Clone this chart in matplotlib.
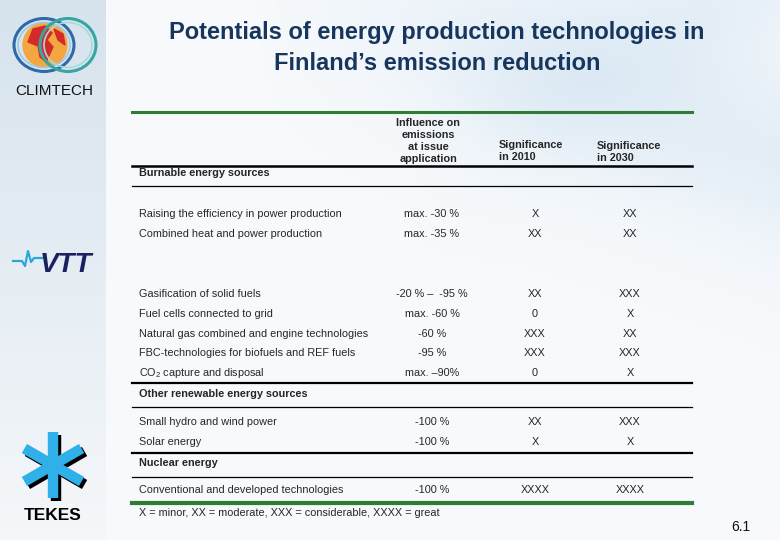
import numpy as np
import matplotlib.pyplot as plt
from matplotlib.patches import Circle, Ellipse, Polygon

plt.rcParams['font.family'] = ['Liberation Sans', 'DejaVu Sans']
plt.rcParams['mathtext.fontset'] = 'custom'
plt.rcParams['mathtext.rm'] = 'Liberation Sans'

# table data
title = "Potentials of energy production technologies in\nFinland\u2019s emission reduction"
col_heads = ["Influence on\nemissions\nat issue\napplication", "Significance\nin 2010", "Significance\nin 2030"]

burnable_a = ["Raising the efficiency in power production", "Combined heat and power production"]
burnable_a_infl = ["max. -30 %", "max. -35 %"]
burnable_a_2010 = ["X", "XX"]
burnable_a_2030 = ["XX", "XX"]

burnable_b = ["Gasification of solid fuels", "Fuel cells connected to grid",
              "Natural gas combined and engine technologies",
              "FBC-technologies for biofuels and REF fuels", "CO$_2$ capture and disposal"]
burnable_b_infl = ["-20 % \u2013  -95 %", "max. -60 %", "-60 %", "-95 %", "max. \u201390%"]
burnable_b_2010 = ["XX", "0", "XXX", "XXX", "0"]
burnable_b_2030 = ["XXX", "X", "XX", "XXX", "X"]

renew = ["Small hydro and wind power", "Solar energy"]
renew_infl = ["-100 %", "-100 %"]
renew_2010 = ["XX", "X"]
renew_2030 = ["XXX", "X"]

nuclear = ["Conventional and developed technologies"]
nuclear_infl = ["-100 %"]
nuclear_2010 = ["XXXX"]
nuclear_2030 = ["XXXX"]

footnote = "X = minor, XX = moderate, XXX = considerable, XXXX = great"

W, H = 780, 540
fig = plt.figure(figsize=(7.8, 5.4), dpi=100)
ax = fig.add_axes([0, 0, 1, 1])
ax.set_xlim(0, W)
ax.set_ylim(H, 0)
ax.axis('off')

# background: pale slide with a faint blue swoosh and a left band
yy, xx = np.mgrid[0:H, 0:W]
bg = np.ones((H, W, 3))
bg[:] = np.array([0.97, 0.98, 0.99])
swoosh = np.exp(-((yy - 0.35 * (xx - 330)) ** 2) / (2 * 70.0 ** 2)) * (yy < 380) * np.clip((xx - 250) / 300, 0, 1)
swoosh2 = np.exp(-((yy + 0.5 * (xx - 700)) ** 2) / (2 * 60.0 ** 2)) * np.clip((xx - 400) / 300, 0, 1)
tint = np.array([0.84, 0.90, 0.95])
s = np.clip(0.55 * swoosh + 0.45 * swoosh2, 0, 1)[..., None]
bg = bg * (1 - s) + tint * s
left = xx < 106
fade = (yy / H)[..., None]
leftcol = np.array([0.84, 0.89, 0.93]) * (1 - fade) + np.array([0.96, 0.97, 0.98]) * fade
bg = np.where(left[..., None], leftcol, bg)
ax.imshow(bg, extent=(0, W, H, 0), aspect='auto', zorder=0)

# title
ax.text(437, 48, title, ha='center', va='center', fontsize=17, fontweight='bold',
        color='#17365d', linespacing=1.4)

# CLIMTECH logo
ax.add_patch(Circle((45, 45), 22, color='#f4a640', zorder=2))
ax.add_patch(Polygon([(33, 29), (45, 26), (52, 33), (47, 40), (53, 47), (46, 62), (40, 57), (38, 46), (28, 42)],
                     color='#d42a2a', zorder=3))
ax.add_patch(Polygon([(54, 29), (63, 34), (65, 45), (58, 40)], color='#d42a2a', zorder=3))
ax.add_patch(Ellipse((44, 45), 60, 53, fill=False, ec='#2f6aa8', lw=2.2, zorder=4))
ax.add_patch(Ellipse((44, 45), 52, 45, fill=False, ec='#9fc8e6', lw=1.2, zorder=4))
ax.add_patch(Ellipse((68, 45), 56, 53, fill=False, ec='#3aa3a3', lw=2.2, zorder=4))
ax.add_patch(Ellipse((68, 45), 48, 45, fill=False, ec='#a6dcd8', lw=1.2, zorder=4))
ax.text(54, 91, "CLIMTECH", ha='center', va='center', fontsize=11, color='#111111')

# VTT logo
ax.plot([13, 22, 25, 28, 31, 34, 42], [261, 261, 266, 251, 262, 258, 258], color='#2aa7d8', lw=1.6, zorder=3)
ax.text(66, 265, "VTT", ha='center', va='center', fontsize=20, fontweight='bold', style='italic',
        color='#1b2060', zorder=4)

# TEKES logo
cx, cy, L = 53, 465, 33
for ang in (90, 30, -30):
    a = np.deg2rad(ang)
    dx, dy = L * np.cos(a), -L * np.sin(a)
    ax.plot([cx - dx + 3, cx + dx + 3], [cy - dy + 3, cy + dy + 3], color='black', lw=7.5,
            solid_capstyle='butt', zorder=3)
    ax.plot([cx - dx, cx + dx], [cy - dy, cy + dy], color='#2fb0e8', lw=7.5, solid_capstyle='butt', zorder=4)
ax.text(53, 516, "TEKES", ha='center', va='center', fontsize=12.5, fontweight='bold', color='black')

# table
x0, x1 = 132, 692
xl, xi, x10, x30 = 139, 432, 535, 630
fs = 7.8
tc = '#262626'

ax.plot([x0, x1], [112, 112], color='#2f7d32', lw=2.2)
ax.text(428, 141, col_heads[0], ha='center', va='center', fontsize=fs, fontweight='bold',
        color=tc, linespacing=1.28)
ax.text(499, 151, col_heads[1], ha='left', va='center', fontsize=fs, fontweight='bold',
        color=tc, linespacing=1.25)
ax.text(597, 152, col_heads[2], ha='left', va='center', fontsize=fs, fontweight='bold',
        color=tc, linespacing=1.25)
ax.plot([x0, x1], [166, 166], color='black', lw=1.8)


def section(title_txt, y_title, y_line):
    ax.text(xl, y_title, title_txt, ha='left', va='center', fontsize=fs, fontweight='bold', color=tc)
    ax.plot([x0, x1], [y_line, y_line], color='black', lw=0.9)


def block(labels, infl, s10, s30, y_start, step=20):
    for i in range(len(labels)):
        y = y_start + i * step
        ax.text(xl, y, labels[i], ha='left', va='center', fontsize=fs, color=tc)
        ax.text(xi, y, infl[i], ha='center', va='center', fontsize=fs, color=tc)
        ax.text(x10, y, s10[i], ha='center', va='center', fontsize=fs, color=tc)
        ax.text(x30, y, s30[i], ha='center', va='center', fontsize=fs, color=tc)


section("Burnable energy sources", 173, 186)
block(burnable_a, burnable_a_infl, burnable_a_2010, burnable_a_2030, 214)
block(burnable_b, burnable_b_infl, burnable_b_2010, burnable_b_2030, 294, step=19.8)
ax.plot([x0, x1], [383, 383], color='black', lw=1.6)

section("Other renewable energy sources", 394, 407)
block(renew, renew_infl, renew_2010, renew_2030, 422)
ax.plot([x0, x1], [453, 453], color='black', lw=1.6)

section("Nuclear energy", 463, 477)
block(nuclear, nuclear_infl, nuclear_2010, nuclear_2030, 490)
ax.plot([x0, x1], [503, 503], color='#2f7d32', lw=3)

ax.text(xl, 513, footnote, ha='left', va='center', fontsize=fs, color=tc)
ax.text(741, 527, "6.1", ha='center', va='center', fontsize=10, color='#111111')

fig.savefig("out.png", dpi=100)
